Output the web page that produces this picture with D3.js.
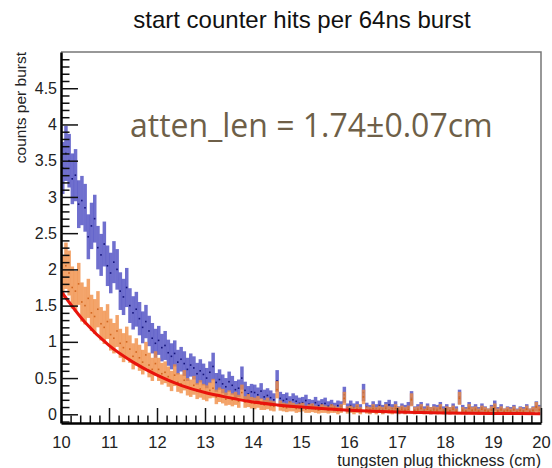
<!DOCTYPE html>
<html>
<head>
<meta charset="utf-8">
<script src="https://cdn.jsdelivr.net/npm/d3@7"></script>
<style>
  body { margin: 0; background: #fff; }
  svg { display: block; }
</style>
</head>
<body>
<svg id="chart" width="552" height="468"></svg>
<script>
// histogram binning: 150 bins between 10 and 20 cm
const xRange = [10, 20];
const nBins = 150;

// blue histogram (counts per burst) and its errors
const blueValues = [
  3.40, 3.60, 3.50, 3.25, 3.30, 2.90, 2.95, 2.85, 2.45, 2.60,
  2.70, 2.30, 2.20, 2.35, 2.05, 1.95, 2.10, 2.00, 1.70, 1.62,
  1.75, 1.50, 1.40, 1.45, 1.32, 1.20, 1.28, 1.15, 1.05, 0.98,
  1.02, 0.92, 0.95, 0.85, 0.80, 0.84, 0.72, 0.76, 0.70, 0.62,
  0.68, 0.64, 0.56, 0.60, 0.55, 0.50, 0.58, 0.66, 0.44, 0.48,
  0.42, 0.38, 0.45, 0.40, 0.34, 0.36, 0.50, 0.33, 0.28, 0.31,
  0.30, 0.27, 0.32, 0.24, 0.26, 0.23, 0.20, 0.46, 0.22, 0.19,
  0.21, 0.17, 0.20, 0.18, 0.15, 0.16, 0.19, 0.14, 0.13, 0.16,
  0.12, 0.14, 0.15, 0.11, 0.13, 0.10, 0.12, 0.11, 0.27, 0.09,
  0.12, 0.09, 0.11, 0.08, 0.30, 0.10, 0.07, 0.11, 0.08, 0.12,
  0.07, 0.10, 0.13, 0.08, 0.11, 0.06, 0.09, 0.07, 0.10, 0.22,
  0.06, 0.08, 0.10, 0.06, 0.09, 0.05, 0.08, 0.07, 0.10, 0.06,
  0.08, 0.05, 0.09, 0.06, 0.24, 0.07, 0.05, 0.10, 0.06, 0.08,
  0.05, 0.09, 0.06, 0.04, 0.07, 0.12, 0.05, 0.08, 0.04, 0.06,
  0.05, 0.07, 0.04, 0.06, 0.05, 0.08, 0.04, 0.06, 0.11, 0.07
];
const blueErrors = [
  0.36, 0.38, 0.37, 0.35, 0.36, 0.33, 0.34, 0.33, 0.31, 0.32,
  0.33, 0.30, 0.29, 0.31, 0.28, 0.28, 0.29, 0.28, 0.26, 0.25,
  0.27, 0.24, 0.23, 0.24, 0.23, 0.22, 0.23, 0.21, 0.21, 0.20,
  0.20, 0.19, 0.20, 0.18, 0.18, 0.18, 0.17, 0.17, 0.17, 0.16,
  0.16, 0.16, 0.15, 0.16, 0.15, 0.14, 0.15, 0.19, 0.13, 0.14,
  0.13, 0.12, 0.14, 0.13, 0.12, 0.12, 0.16, 0.12, 0.11, 0.11,
  0.11, 0.10, 0.11, 0.10, 0.10, 0.10, 0.09, 0.15, 0.09, 0.09,
  0.09, 0.08, 0.09, 0.08, 0.08, 0.08, 0.08, 0.07, 0.07, 0.08,
  0.07, 0.07, 0.08, 0.07, 0.07, 0.06, 0.07, 0.07, 0.11, 0.06,
  0.07, 0.06, 0.07, 0.06, 0.12, 0.06, 0.06, 0.07, 0.06, 0.07,
  0.06, 0.07, 0.07, 0.06, 0.07, 0.05, 0.06, 0.06, 0.07, 0.10,
  0.05, 0.06, 0.07, 0.05, 0.06, 0.05, 0.06, 0.06, 0.07, 0.05,
  0.06, 0.05, 0.06, 0.05, 0.10, 0.06, 0.05, 0.07, 0.05, 0.06,
  0.05, 0.06, 0.05, 0.04, 0.06, 0.07, 0.05, 0.06, 0.04, 0.05,
  0.05, 0.06, 0.04, 0.05, 0.05, 0.06, 0.04, 0.05, 0.07, 0.06
];

// orange histogram and its errors
const orangeValues = [
  1.90, 2.05, 1.95, 1.75, 1.70, 1.80, 1.55, 1.50, 1.60, 1.40,
  1.35, 1.45, 1.25, 1.20, 1.28, 1.10, 1.05, 1.15, 0.98, 0.92,
  1.00, 0.90, 0.80, 0.86, 0.78, 0.72, 0.82, 0.68, 0.62, 0.70,
  0.62, 0.56, 0.58, 0.52, 0.46, 0.54, 0.44, 0.42, 0.47, 0.38,
  0.36, 0.40, 0.32, 0.35, 0.31, 0.29, 0.33, 0.36, 0.24, 0.27,
  0.25, 0.21, 0.23, 0.20, 0.22, 0.18, 0.30, 0.17, 0.19, 0.16,
  0.15, 0.17, 0.14, 0.13, 0.15, 0.12, 0.11, 0.34, 0.12, 0.10,
  0.09, 0.11, 0.10, 0.08, 0.09, 0.10, 0.07, 0.08, 0.09, 0.07,
  0.06, 0.08, 0.07, 0.06, 0.08, 0.07, 0.05, 0.08, 0.22, 0.06,
  0.07, 0.05, 0.08, 0.05, 0.24, 0.06, 0.05, 0.08, 0.05, 0.07,
  0.05, 0.08, 0.06, 0.05, 0.08, 0.05, 0.07, 0.05, 0.07, 0.20,
  0.05, 0.06, 0.08, 0.04, 0.07, 0.05, 0.06, 0.05, 0.08, 0.04,
  0.06, 0.05, 0.07, 0.04, 0.22, 0.05, 0.04, 0.08, 0.05, 0.06,
  0.04, 0.07, 0.05, 0.04, 0.06, 0.09, 0.04, 0.06, 0.04, 0.05,
  0.04, 0.06, 0.03, 0.05, 0.04, 0.07, 0.04, 0.05, 0.10, 0.06
];
const orangeErrors = [
  0.30, 0.32, 0.31, 0.29, 0.28, 0.29, 0.27, 0.26, 0.27, 0.25,
  0.24, 0.25, 0.23, 0.23, 0.24, 0.22, 0.21, 0.22, 0.20, 0.20,
  0.21, 0.19, 0.18, 0.19, 0.18, 0.17, 0.18, 0.17, 0.16, 0.17,
  0.16, 0.15, 0.15, 0.14, 0.14, 0.15, 0.13, 0.13, 0.14, 0.12,
  0.12, 0.13, 0.11, 0.12, 0.11, 0.11, 0.11, 0.13, 0.10, 0.10,
  0.10, 0.09, 0.10, 0.09, 0.09, 0.09, 0.11, 0.08, 0.09, 0.08,
  0.08, 0.08, 0.08, 0.07, 0.08, 0.07, 0.07, 0.12, 0.07, 0.06,
  0.06, 0.07, 0.06, 0.06, 0.06, 0.06, 0.05, 0.06, 0.06, 0.05,
  0.05, 0.06, 0.05, 0.05, 0.06, 0.05, 0.05, 0.06, 0.09, 0.05,
  0.05, 0.05, 0.06, 0.05, 0.10, 0.05, 0.05, 0.06, 0.05, 0.05,
  0.05, 0.06, 0.05, 0.05, 0.06, 0.05, 0.05, 0.05, 0.05, 0.09,
  0.05, 0.05, 0.06, 0.04, 0.05, 0.05, 0.05, 0.05, 0.06, 0.04,
  0.05, 0.05, 0.05, 0.04, 0.09, 0.05, 0.04, 0.06, 0.05, 0.05,
  0.04, 0.05, 0.05, 0.04, 0.05, 0.06, 0.04, 0.05, 0.04, 0.05,
  0.04, 0.05, 0.04, 0.05, 0.04, 0.05, 0.04, 0.05, 0.07, 0.05
];

const fitX = [10, 10.5, 11, 11.5, 12, 12.5, 13, 13.5, 14, 14.5, 15,
              15.5, 16, 16.5, 17, 17.5, 18, 18.5, 19, 19.5, 20];
const fitY = [1.70, 1.27, 0.95, 0.72, 0.54, 0.40, 0.30, 0.23, 0.17, 0.13, 0.10,
              0.075, 0.056, 0.042, 0.032, 0.025, 0.019, 0.015, 0.012, 0.010, 0.009];

// axis ticks
const xMajorTicks = [10, 11, 12, 13, 14, 15, 16, 17, 18, 19, 20];
const yMajorTicks = [0, 0.5, 1, 1.5, 2, 2.5, 3, 3.5, 4, 4.5];

const titleText = 'start counter hits per 64ns burst';
const fitLabel = 'atten_len = 1.74\u00b10.07cm';

const svg = d3.select('#chart');
const font = '"Liberation Sans", Arial, sans-serif';

const plot = { left: 61, right: 541, top: 52, bottom: 423 };

const x = d3.scaleLinear().domain(xRange).range([plot.left, plot.right]);
const y = d3.scaleLinear().domain([-0.12, 5.0]).range([plot.bottom, plot.top]);

const binW = (xRange[1] - xRange[0]) / nBins;
const binLo = i => xRange[0] + i * binW;

const makeBins = (vals, errs) => vals.map((v, i) => ({ lo: binLo(i), hi: binLo(i + 1), v, e: errs[i] }));
const blueBins = makeBins(blueValues, blueErrors);
const orangeBins = makeBins(orangeValues, orangeErrors);

svg.append('defs').append('clipPath').attr('id', 'clip')
  .append('rect')
  .attr('x', plot.left).attr('y', plot.top)
  .attr('width', plot.right - plot.left).attr('height', plot.bottom - plot.top);

const g = svg.append('g').attr('clip-path', 'url(#clip)');

function drawHist(bins, fill, dot) {
  const layer = g.append('g');
  layer.append('g')
    .selectAll('rect')
    .data(bins)
    .join('rect')
    .attr('x', d => x(d.lo))
    .attr('width', d => x(d.hi) - x(d.lo) + 0.3)
    .attr('y', d => y(d.v + d.e))
    .attr('height', d => y(d.v - d.e) - y(d.v + d.e))
    .attr('fill', fill)
    .attr('fill-opacity', 0.78);
  layer.append('g')
    .selectAll('rect')
    .data(bins)
    .join('rect')
    .attr('x', d => x((d.lo + d.hi) / 2) - 0.8)
    .attr('y', d => y(d.v) - 0.8)
    .attr('width', 1.6)
    .attr('height', 1.6)
    .attr('fill', dot);
}

drawHist(blueBins, '#4646c0', '#14147a');
drawHist(orangeBins, '#f08a40', '#d2661f');

// fit line
g.append('path')
  .datum(fitX.map((d, i) => [d, fitY[i]]))
  .attr('fill', 'none')
  .attr('stroke', '#e8140c')
  .attr('stroke-width', 3)
  .attr('d', d3.line().x(d => x(d[0])).y(d => y(d[1])).curve(d3.curveMonotoneX));

// frame (top + right)
svg.append('path')
  .attr('d', `M${plot.left},${plot.top}H${plot.right}V${plot.bottom}`)
  .attr('fill', 'none')
  .attr('stroke', '#777')
  .attr('stroke-width', 1.5);

// x axis
const xMinor = d3.range(10, 20.001, 0.2).filter(v => Math.abs(v - Math.round(v)) > 1e-6);
svg.append('g')
  .attr('transform', `translate(0,${plot.bottom})`)
  .call(d3.axisBottom(x).tickValues(xMinor).tickSize(-7.5).tickSizeOuter(0).tickFormat(''))
  .call(a => a.select('.domain').remove());
const xAxis = svg.append('g')
  .attr('transform', `translate(0,${plot.bottom})`)
  .call(d3.axisBottom(x).tickValues(xMajorTicks).tickSize(-15).tickSizeOuter(0).tickPadding(13).tickFormat(d3.format('d')));
xAxis.select('.domain').attr('stroke-width', 2.5);
xAxis.selectAll('text').attr('font-family', font).attr('font-size', 16.5).attr('fill', '#222');

// y axis
const yMinor = d3.range(-0.1, 4.95, 0.1).filter(v => Math.abs(v * 2 - Math.round(v * 2)) > 1e-6);
svg.append('g')
  .attr('transform', `translate(${plot.left},0)`)
  .call(d3.axisLeft(y).tickValues(yMinor).tickSize(-8.5).tickSizeOuter(0).tickFormat(''))
  .call(a => a.select('.domain').remove());
const yAxis = svg.append('g')
  .attr('transform', `translate(${plot.left},0)`)
  .call(d3.axisLeft(y).tickValues(yMajorTicks).tickSize(-17).tickSizeOuter(0).tickPadding(4).tickFormat(d3.format('')));
yAxis.select('.domain').attr('stroke-width', 2.5);
yAxis.selectAll('text').attr('font-family', font).attr('font-size', 16).attr('fill', '#222');

svg.selectAll('.tick line').attr('stroke', '#111').attr('stroke-width', 1.5);

// titles
svg.append('text')
  .attr('x', 302).attr('y', 28)
  .attr('text-anchor', 'middle')
  .attr('font-family', font).attr('font-size', 24).attr('fill', '#111')
  .text(titleText);

svg.append('text')
  .attr('transform', `translate(26,${plot.top}) rotate(-90)`)
  .attr('text-anchor', 'end')
  .attr('font-family', font).attr('font-size', 15.5).attr('fill', '#222')
  .text('counts per burst');

svg.append('text')
  .attr('x', plot.right).attr('y', 466)
  .attr('text-anchor', 'end')
  .attr('font-family', font).attr('font-size', 16).attr('fill', '#222')
  .text('tungsten plug thickness (cm)');

svg.append('text')
  .attr('x', 130).attr('y', 137)
  .attr('font-family', '"Open Sans", "Noto Sans", sans-serif').attr('font-size', 32).attr('fill', '#6e5f48')
  .text(fitLabel);
</script>
</body>
</html>
